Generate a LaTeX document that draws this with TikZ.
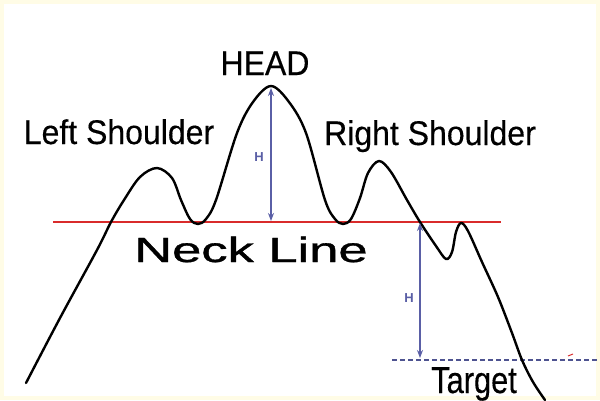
\documentclass[tikz,border=0pt]{standalone}
\usepackage{fontspec}
\setmainfont{Liberation Sans}
\newfontfamily\heavy{Liberation Sans}[FakeBold=0.35]
\newfontfamily\heavier{Liberation Sans}[FakeBold=0.9]
\usetikzlibrary{arrows.meta}
\definecolor{frame}{HTML}{FFFCE6}
\definecolor{neck}{HTML}{D92B2B}
\definecolor{hblue}{HTML}{5A5FA6}
\definecolor{tdash}{HTML}{4E5390}
\tikzset{
  lbl/.style={inner sep=0pt, anchor=base, yscale=1.07, font=\heavy\fontsize{32}{36}\selectfont},
  hlbl/.style={inner sep=0pt, text=hblue, font=\bfseries\fontsize{13}{14}\selectfont},
  harrow/.style={hblue, line width=1.5pt, {Stealth[length=8pt,width=6pt]}-{Stealth[length=8pt,width=6pt]}},
  price/.style={black, line width=2.4pt, line cap=round, line join=round},
}
\begin{document}
\begin{tikzpicture}[x=1pt,y=-1pt]
\useasboundingbox (0,0) rectangle (600,400);
\fill[frame] (0,0) rectangle (600,400);
\fill[white] (4,4) rectangle (596,396);

% neck line
\coordinate (nl1) at (53,222);
\coordinate (nl2) at (501,222);
\draw[neck, line width=1.8pt] (nl1) -- (nl2);

% target line
\coordinate (tl1) at (392,360);
\coordinate (tl2) at (600,360);
\draw[tdash, line width=1.3pt, dash pattern=on 5pt off 3pt] (tl1) -- (tl2);

% price curve
\draw[price] plot[smooth, tension=0.55] coordinates {
 (26,383) (60,318) (97,250) (111,222) (124,200) (140,177) (157,168) (172,178)
 (181,200) (190,219) (198,224) (206,219) (216,200) (237,133) (253,102) (271,86)
 (289,102) (306,133) (325,200) (335,219) (343,224) (351,219) (360,198) (368,173)
 (379,161) (391,172) (407,200) (420,222) (436,246) (446,259) (452,252) (456,232)
 (461,223) (468,231) (482,262) (498,297) (512,333) (522,360) (533,382) (545,400)};

% height arrows
\coordinate (hTop) at (271,88);
\coordinate (hBot) at (271,221);
\draw[harrow] (hBot) -- (hTop);
\node[hlbl] (h1) at (259,157) {H};

\coordinate (tTop) at (420,223);
\coordinate (tBot) at (420,358);
\draw[harrow] (tTop) -- (tBot);
\node[hlbl] (h2) at (409,298) {H};

% small red mark
\coordinate (rm1) at (568,356);
\coordinate (rm2) at (573,354);
\draw[neck, line width=1pt] (rm1) -- (rm2);

% labels
\node[lbl] (head) at (265,75) {HEAD};
\node[lbl] (ls) at (119,144) {Left Shoulder};
\node[lbl] (rs) at (430,145) {Right Shoulder};
\node[inner sep=0pt, anchor=base, xscale=1.5, font=\heavier\fontsize{35}{40}\selectfont] (nk) at (251,262) {Neck Line};
\node[lbl, font=\heavy\fontsize{35}{38}\selectfont, xscale=0.88, yscale=1] (tg) at (474,393) {Target};
\end{tikzpicture}
\end{document}
